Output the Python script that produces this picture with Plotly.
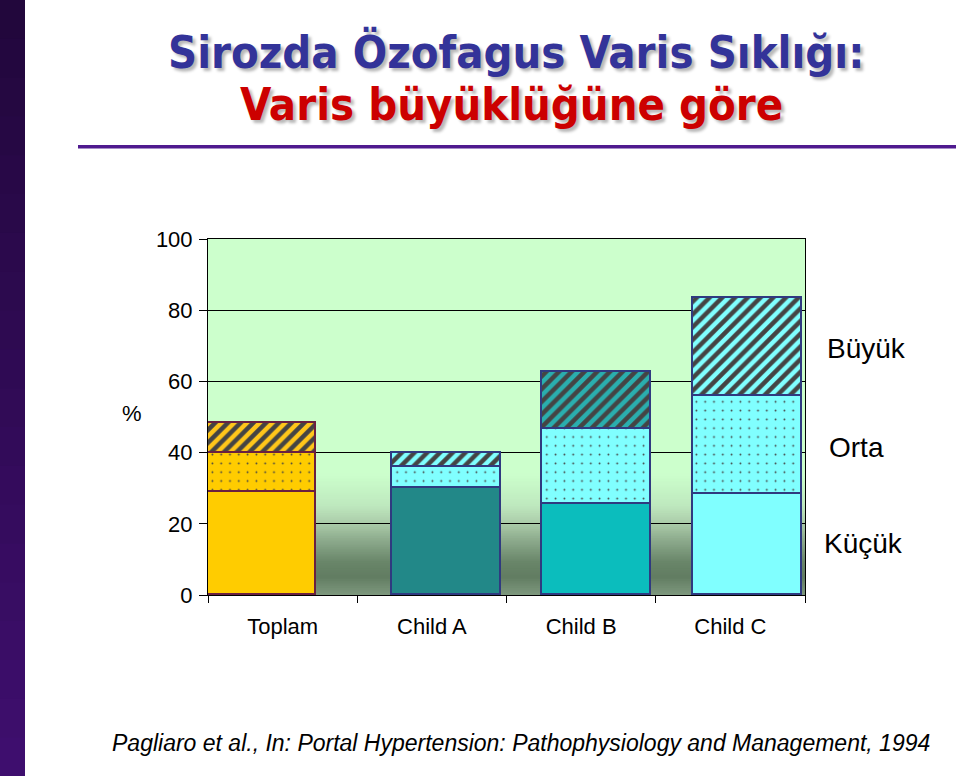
import plotly.graph_objects as go

# ---------------- data ----------------
categories = ["Toplam", "Child A", "Child B", "Child C"]
kucuk = [29, 30, 25.5, 28.5]      # Küçük (small)
orta = [11, 6, 21, 27.5]          # Orta (medium)
buyuk = [8.4, 4, 16.2, 27.5]      # Büyük (large)
y_tick_vals = [0, 20, 40, 60, 80, 100]
series_labels = ["Küçük", "Orta", "Büyük"]

title_line1 = "Sirozda Özofagus Varis Sıklığı:"
title_line2 = "Varis büyüklüğüne göre"
footer = "Pagliaro et al., In: Portal Hypertension: Pathophysiology and Management, 1994"

# ---------------- styles ----------------
W, H = 960, 776
PL, PR, PT, PB = 208, 805, 239, 594.7   # plot area in pixels


def X(px):
    return (px - PL) / (PR - PL)


def Y(py):
    return (PB - py) / (PB - PT)


bar_width = 0.728
bar_shift = [-0.138, 0.097, 0.105, 0.113]
offsets = [s - bar_width / 2 for s in bar_shift]

border = ["#6a2040", "#2f3a80", "#2f3a80", "#2f3a80"]
k_colors = ["#FFCC00", "#228888", "#0BBDBD", "#80FFFF"]
o_bg = ["#FFCC00", "#80FFFF", "#80FFFF", "#80FFFF"]
o_fg = ["#C89400", "#2A9A9A", "#2AA0A0", "#2A9A9A"]
b_bg = ["#FFC61A", "#80FFFF", "#2AAEAE", "#80FFFF"]
b_fg = ["#B5123F", "#228888", "#1E8484", "#1E8282"]

fig = go.Figure()
fig.add_trace(go.Bar(
    x=categories, y=kucuk, name=series_labels[0], width=bar_width, offset=offsets,
    marker=dict(color=k_colors, opacity=1, line=dict(color=border, width=1.6)),
    showlegend=False, hoverinfo="skip"))
fig.add_trace(go.Bar(
    x=categories, y=orta, name=series_labels[1], width=bar_width, offset=offsets,
    marker=dict(color=o_bg, opacity=1, line=dict(color=border, width=1.6),
                pattern=dict(shape=".", fgcolor=o_fg, fgopacity=1, size=8.8,
                             solidity=0.035, fillmode="overlay")),
    showlegend=False, hoverinfo="skip"))
fig.add_trace(go.Bar(
    x=categories, y=buyuk, name=series_labels[2], width=bar_width, offset=offsets,
    marker=dict(color=b_bg, opacity=1, line=dict(color=border, width=1.6),
                pattern=dict(shape="/", fgcolor=b_fg, fgopacity=1, size=9,
                             solidity=0.5, fillmode="overlay")),
    showlegend=False, hoverinfo="skip"))

# ---------------- background gradient inside plot ----------------
stops = [(0, (0x7E, 0x98, 0x7E)), (5, (0x62, 0x7D, 0x62)), (9, (0x68, 0x84, 0x68)),
         (15, (0x8A, 0xA8, 0x8A)), (20, (0xAA, 0xCA, 0xA8)), (25, (0xBE, 0xE8, 0xBE)),
         (34, (0xCC, 0xFF, 0xCC))]


def col_at(v):
    for (a, ca), (b, cb) in zip(stops[:-1], stops[1:]):
        if a <= v <= b:
            t = (v - a) / (b - a)
            return "rgb(%d,%d,%d)" % tuple(round(ca[i] + (cb[i] - ca[i]) * t) for i in range(3))
    return "rgb(204,255,204)"


shapes = []
n = 68
for i in range(n):
    v0 = 34 * i / n
    v1 = 34 * (i + 1) / n
    shapes.append(dict(type="rect", xref="x domain", yref="y", x0=0, x1=1, y0=v0, y1=v1 + 0.25,
                       fillcolor=col_at((v0 + v1) / 2), line=dict(width=0), layer="below"))

# left purple band
band = [(0x22, 0x07, 0x3C), (0x3E, 0x0E, 0x6E)]
nb = 20
for i in range(nb):
    t = i / (nb - 1)
    c = "rgb(%d,%d,%d)" % tuple(round(band[0][k] + (band[1][k] - band[0][k]) * t) for k in range(3))
    shapes.append(dict(type="rect", xref="paper", yref="paper", x0=X(0), x1=X(25),
                       y0=Y(H * (i + 1) / nb + 1), y1=Y(H * i / nb), fillcolor=c,
                       line=dict(width=0), layer="below"))
# purple rule under title
shapes.append(dict(type="rect", xref="paper", yref="paper", x0=X(78), x1=X(956),
                   y0=Y(148.5), y1=Y(145), fillcolor="#4F1A8F", line=dict(width=0)))

annotations = [
    dict(text="<b>%s</b>" % title_line1, x=X(516), y=Y(53), xref="paper", yref="paper",
         showarrow=False, xanchor="center", yanchor="middle",
         font=dict(family="DejaVu Sans Condensed, DejaVu Sans", size=45, color="#333399",
                   shadow="3px 3px 3px #b8b8b8")),
    dict(text="<b>%s</b>" % title_line2, x=X(511), y=Y(105), xref="paper", yref="paper",
         showarrow=False, xanchor="center", yanchor="middle",
         font=dict(family="DejaVu Sans Condensed, DejaVu Sans", size=45, color="#CC0000",
                   shadow="3px 3px 3px #b8b8b8")),
    dict(text="<i>%s</i>" % footer, x=X(521), y=Y(743), xref="paper", yref="paper",
         showarrow=False, xanchor="center", yanchor="middle",
         font=dict(family="Liberation Sans, Arial", size=23, color="black")),
    dict(text="%", x=X(132), y=Y(413), xref="paper", yref="paper", showarrow=False,
         xanchor="center", yanchor="middle",
         font=dict(family="Liberation Sans, Arial", size=22, color="black")),
]
label_pos = {"Büyük": (825, 348), "Orta": (827, 447), "Küçük": (822, 543)}
for lab in series_labels:
    px, py = label_pos[lab]
    annotations.append(dict(text=lab, x=X(px), y=Y(py), xref="paper", yref="paper",
                            showarrow=False, xanchor="left", yanchor="middle",
                            font=dict(family="Liberation Sans, Arial", size=28, color="black")))

fig.update_layout(
    width=W, height=H, barmode="stack", bargap=0,
    margin=dict(l=PL, r=W - PR, t=PT, b=H - PB, pad=0),
    paper_bgcolor="white", plot_bgcolor="#CCFFCC",
    shapes=shapes, annotations=annotations,
    font=dict(family="Liberation Sans, Arial", size=22, color="black"),
    xaxis=dict(type="category", categoryorder="array", categoryarray=categories,
               range=[-0.5, 3.5], showgrid=False, showline=True, linecolor="black",
               linewidth=1, mirror=True, ticks="outside", tickson="boundaries",
               ticklen=7, tickcolor="black", ticklabelstandoff=12,
               tickfont=dict(size=22, color="black")),
    yaxis=dict(range=[0, 100], tickvals=y_tick_vals, showgrid=True, gridcolor="black",
               gridwidth=1, zeroline=False, showline=True, linecolor="black",
               linewidth=1, mirror=True, ticks="outside", ticklen=8, tickcolor="black",
               ticklabelstandoff=2, tickfont=dict(size=22, color="black")),
)

fig.write_html("out.html")
